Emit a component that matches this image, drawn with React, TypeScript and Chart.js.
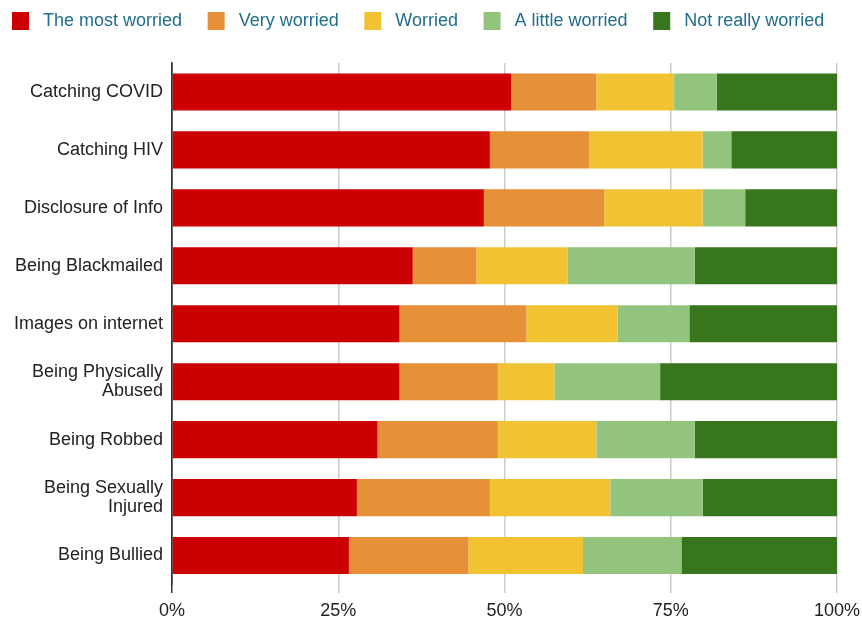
import React, { useEffect, useRef } from "react";
import { Chart, registerables } from "chart.js";

Chart.register(...registerables);

const categories: (string | string[])[] = [
  "Catching COVID",
  "Catching HIV",
  "Disclosure of Info",
  "Being Blackmailed",
  "Images on internet",
  ["Being Physically", "Abused"],
  "Being Robbed",
  ["Being Sexually", "Injured"],
  "Being Bullied",
];

const seriesNames = ["The most worried", "Very worried", "Worried", "A little worried", "Not really worried"];
const seriesColors = ["#cc0000", "#e69138", "#f1c232", "#93c47d", "#38761d"];

const mostWorried = [51.0, 47.8, 46.9, 36.2, 34.2, 34.2, 30.9, 27.8, 26.6];
const veryWorried = [12.8, 14.9, 18.1, 9.6, 19.1, 14.8, 18.1, 20.0, 18.0];
const worried = [11.7, 17.1, 14.8, 13.7, 13.7, 8.5, 14.8, 18.1, 17.2];
const littleWorried = [6.4, 4.3, 6.4, 19.1, 10.8, 15.9, 14.8, 13.9, 14.8];
const notReallyWorried = [18.1, 15.9, 13.8, 21.4, 22.2, 26.6, 21.4, 20.2, 23.4];

const xTicks = [0, 25, 50, 75, 100];

const FONT = "'Liberation Sans', Arial, sans-serif";

const legendSpacer = {
  id: "legendSpacer",
  beforeInit(chart: any) {
    const legend = chart.legend;
    if (!legend) return;
    const origFit = legend.fit;
    legend.fit = function () {
      this.maxWidth = chart.width + 40;
      origFit.call(this);
      this.height += 23;
    };
  },
  afterLayout(chart: any) {
    const legend = chart.legend;
    if (legend) {
      legend.right = chart.width + 40;
      legend.width = legend.right - legend.left;
    }
    const xs = chart.scales && chart.scales.x;
    if (xs) {
      const r = chart.width - 25;
      xs.right = r;
      xs.width = r - xs.left;
      xs.configure();
      chart.chartArea.right = r;
      chart.chartArea.width = r - chart.chartArea.left;
    }
  },
};

export default function App() {
  const ref = useRef<HTMLCanvasElement | null>(null);

  useEffect(() => {
    document.body.style.margin = "0";
    const canvas = ref.current;
    if (!canvas) return;
    const seriesValues = [mostWorried, veryWorried, worried, littleWorried, notReallyWorried];
    const chart = new Chart(canvas, {
      type: "bar",
      data: {
        labels: categories,
        datasets: seriesNames.map((name, i) => ({
          label: name,
          data: seriesValues[i],
          backgroundColor: seriesColors[i],
          borderWidth: 0,
          categoryPercentage: 0.8,
          barPercentage: 0.8,
        })),
      },
      plugins: [legendSpacer],
      options: {
        indexAxis: "y",
        animation: false,
        responsive: false,
        maintainAspectRatio: false,
        layout: { autoPadding: false, padding: { left: 0, right: 17, top: 0, bottom: 0 } },
        plugins: {
          tooltip: { enabled: false },
          legend: {
            position: "top",
            align: "start",
            labels: {
              boxWidth: 17,
              boxHeight: 18,
              padding: 12,
              color: "#1f6e8c",
              font: { family: FONT, size: 18 },
              generateLabels: (chart: any) => {
                const items = Chart.defaults.plugins.legend.labels.generateLabels(chart);
                return items.map((it: any) => ({ ...it, text: " " + it.text + "  \u2009" }));
              },
            },
          },
        },
        scales: {
          x: {
            stacked: true,
            min: 0,
            max: 100,
            afterBuildTicks: (scale: any) => {
              scale.ticks = xTicks.map((v) => ({ value: v }));
            },
            afterFit: (scale: any) => {
              scale.height = 35.5;
            },
            ticks: {
              color: "#222",
              padding: 9,
              font: { family: FONT, size: 18, lineHeight: 1 },
              callback: (v: any) => v + "%",
            },
            grid: {
              color: (ctx: any) => (ctx.tick && ctx.tick.value === 0 ? "#333" : "#cccccc"),
              lineWidth: 1.5,
              tickLength: 8.5,
              drawTicks: true,
            },
            border: { display: false },
          },
          y: {
            stacked: true,
            afterFit: (scale: any) => {
              scale.width = 172;
            },
            ticks: {
              color: "#222",
              padding: 9,
              font: { family: FONT, size: 18, lineHeight: 1.05 },
            },
            grid: { display: false, drawTicks: false },
            border: { display: true, color: "#333", width: 1.5 },
          },
        },
      },
    });
    return () => chart.destroy();
  }, []);

  return (
    <div style={{ position: "relative", width: 862, height: 620 }}>
      <canvas ref={ref} width={862} height={620} style={{ width: 862, height: 620 }} />
    </div>
  );
}
